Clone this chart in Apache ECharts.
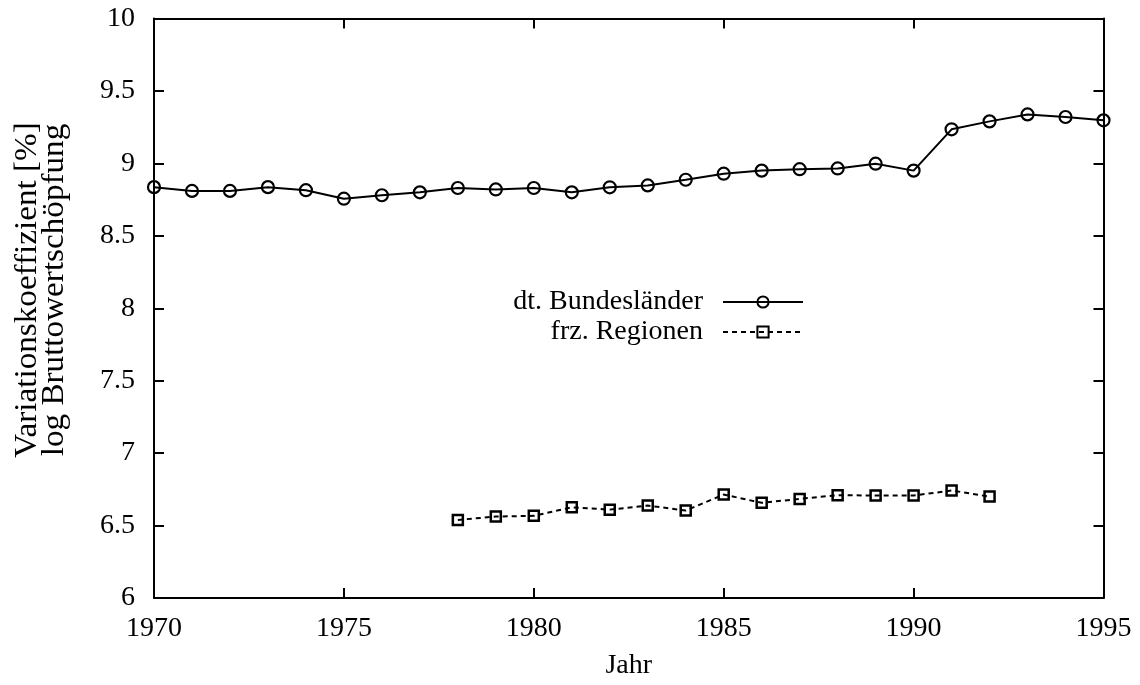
<!DOCTYPE html>
<html>
<head>
<meta charset="utf-8">
<script src="https://cdn.jsdelivr.net/npm/echarts@6/dist/echarts.min.js"></script>
<style>
  html, body { margin: 0; padding: 0; background: #fff; }
  #main { width: 1140px; height: 685px; }
</style>
</head>
<body>
<div id="main"></div>
<script>
// Daten
var jahreDt = [1970, 1971, 1972, 1973, 1974, 1975, 1976, 1977, 1978, 1979, 1980, 1981, 1982,
	1983, 1984, 1985, 1986, 1987, 1988, 1989, 1990, 1991, 1992, 1993, 1994, 1995];
var werteDt = [8.836, 8.81, 8.81, 8.836, 8.815, 8.756, 8.78, 8.80, 8.83, 8.82, 8.83, 8.80, 8.835,
	8.848, 8.887, 8.929, 8.95, 8.96, 8.965, 8.998, 8.95, 9.235, 9.29, 9.338, 9.32, 9.297];
var jahreFr = [1978, 1979, 1980, 1981, 1982, 1983, 1984, 1985, 1986, 1987, 1988, 1989, 1990, 1991, 1992];
var werteFr = [6.539, 6.562, 6.567, 6.626, 6.61, 6.638, 6.604, 6.714, 6.657, 6.684, 6.71, 6.707, 6.707, 6.742, 6.70];
var xTicks = [1970, 1975, 1980, 1985, 1990, 1995];
var yTicks = [6, 6.5, 7, 7.5, 8, 8.5, 9, 9.5, 10];

function paare(xs, ys) {
	var out = [];
	for (var i = 0; i < xs.length; i++) out.push([xs[i], ys[i]]);
	return out;
}

var schrift = '"Liberation Serif", "DejaVu Serif", serif';
var myChart = echarts.init(document.getElementById('main'));

var achsLinie = { show: true, lineStyle: { color: '#000', width: 2 } };
var tick = { show: true, inside: true, length: 10, lineStyle: { color: '#000', width: 2 } };

var option = {
	animation: false,
	backgroundColor: '#fff',
	textStyle: { fontFamily: schrift },
	grid: { left: 154, right: 36.5, top: 18.5, bottom: 87 },
	xAxis: [{
		type: 'value',
		min: xTicks[0], max: xTicks[xTicks.length - 1], interval: 5,
		axisLine: achsLinie, axisTick: tick, splitLine: { show: false },
		axisLabel: {
			color: '#000', fontSize: 28, fontFamily: schrift, margin: 17,
			formatter: function (v) { return String(v); }
		},
		name: 'Jahr', nameLocation: 'middle', nameGap: 54,
		nameTextStyle: { color: '#000', fontSize: 28, fontFamily: schrift }
	}, {
		type: 'value', position: 'top',
		min: xTicks[0], max: xTicks[xTicks.length - 1], interval: 5,
		axisLine: achsLinie, axisTick: tick, splitLine: { show: false },
		axisLabel: { show: false }
	}],
	yAxis: [{
		type: 'value',
		min: yTicks[0], max: yTicks[yTicks.length - 1], interval: 0.5,
		axisLine: achsLinie, axisTick: tick, splitLine: { show: false },
		axisLabel: { color: '#000', fontSize: 28, fontFamily: schrift, margin: 19 }
	}, {
		type: 'value', position: 'right',
		min: yTicks[0], max: yTicks[yTicks.length - 1], interval: 0.5,
		axisLine: achsLinie, axisTick: tick, splitLine: { show: false },
		axisLabel: { show: false }
	}],
	legend: {
		orient: 'vertical',
		align: 'right',
		right: 331, top: 283,
		itemWidth: 80, itemHeight: 14, itemGap: 2,
		textStyle: { color: '#000', fontSize: 28, fontFamily: schrift, padding: [0, 15, 0, 0] },
		data: ['dt. Bundesländer', 'frz. Regionen']
	},
	graphic: [{
		type: 'text',
		x: 41, y: 290,
		rotation: Math.PI / 2,
		scaleX: 1.07,
		style: {
			text: 'Variationskoeffizient [%]\nlog Bruttowertschöpfung',
			fill: '#000',
			font: '31px ' + schrift,
			align: 'center',
			verticalAlign: 'middle',
			lineHeight: 27
		}
	}],
	series: [{
		name: 'dt. Bundesländer',
		type: 'line',
		data: paare(jahreDt, werteDt),
		symbol: 'circle', symbolSize: 12,
		lineStyle: { color: '#000', width: 2 },
		itemStyle: { color: 'rgba(0,0,0,0)', borderColor: '#000', borderWidth: 2.2 }
	}, {
		name: 'frz. Regionen',
		type: 'line',
		data: paare(jahreFr, werteFr),
		symbol: 'rect', symbolSize: 10,
		lineStyle: { color: '#000', width: 2, type: [5, 4] },
		itemStyle: { color: 'rgba(0,0,0,0)', borderColor: '#000', borderWidth: 2.5 }
	}]
};

myChart.setOption(option);
</script>
</body>
</html>
